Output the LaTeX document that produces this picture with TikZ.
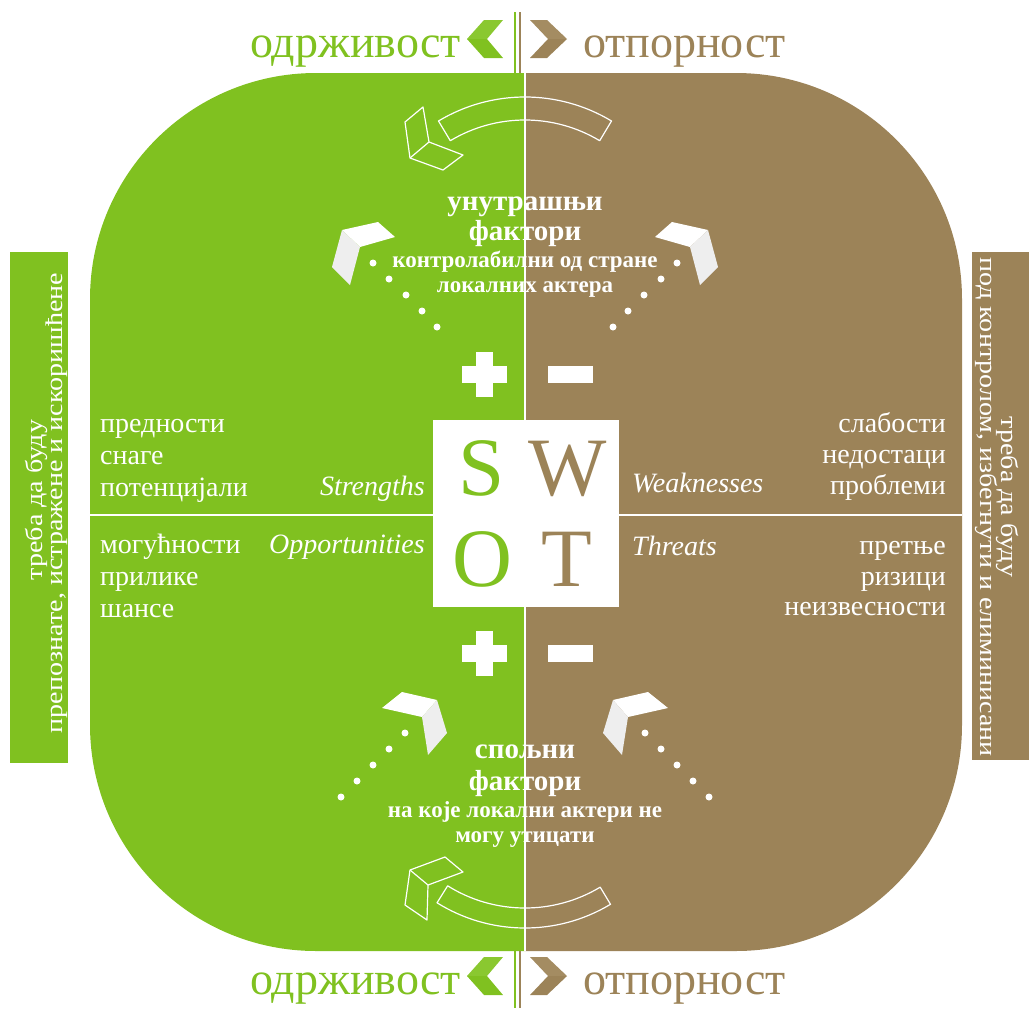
\documentclass[tikz,border=0pt]{standalone}
\usepackage{fontspec}
\setmainfont{Liberation Serif}
\definecolor{swgreen}{RGB}{128,193,32}
\definecolor{swbrown}{RGB}{156,131,88}
\definecolor{lgreen}{RGB}{138,200,48}
\definecolor{lbrown}{RGB}{164,140,98}
\definecolor{facet}{RGB}{238,238,238}
\tikzset{
 wt/.style={text=white, inner sep=0pt},
 lbl/.style={wt, font=\fontsize{28}{28}\selectfont},
 eng/.style={wt, font=\fontsize{28}{28}\selectfont\itshape},
 bigt/.style={wt, font=\fontsize{29}{29}\selectfont\bfseries, anchor=base},
 smallt/.style={wt, font=\fontsize{23}{23}\selectfont\bfseries, anchor=base},
 hdr/.style={inner sep=0pt, font=\fontsize{46}{46}\selectfont},
 swot/.style={inner sep=0pt, anchor=base, font=\fontsize{83}{83}\selectfont},
 side/.style={wt, anchor=base, font=\fontsize{24}{24}\selectfont},
 outl/.style={draw=white, line width=1.2pt, line join=round},
 dotmark/.style={fill=white, circle, inner sep=0pt, minimum size=7pt},
 sep/.style={white, line width=1.5pt},
}
\newcommand{\wide}[1]{\scalebox{1.17}[1]{#1}}
\begin{document}
\begin{tikzpicture}[x=1pt,y=-1pt]
\useasboundingbox (0,0) rectangle (1029,1010);
\clip (0,0) rectangle (1029,1010);
% main rounded square
\begin{scope}
\clip[rounded corners=226pt] (90,73) rectangle (962,951);
\fill[swgreen] (80,60) rectangle (525,960);
\fill[swbrown] (525,60) rectangle (975,960);
\end{scope}
\draw[sep] (525,73) -- (525,951);
\draw[sep] (90,515) -- (962,515);
% side bars
\fill[swgreen] (10,252) rectangle (68,763);
\fill[swbrown] (972,252) rectangle (1040,760);
\node[side, rotate=90] (l1) at (42,500) {\wide{треба да буду}};
\node[side, rotate=90] (l2) at (62,503) {\wide{препознате, истражене и искоришћене}};
\node[side, rotate=-90] (r1) at (1001,497) {\wide{треба да буду}};
\node[side, rotate=-90] (r2) at (980,507) {\wide{под контролом, избегнути и елиминисани}};
% headers
\foreach \dy/\nm in {0/t,937/b}{
 \begin{scope}[shift={(0,\dy)}]
 \node[hdr, text=swgreen, anchor=base east] (hg\nm) at (461,57) {одрживост};
 \node[hdr, text=swbrown, anchor=base west] (hb\nm) at (583,57) {отпорност};
 \fill[lgreen] (467,39) -- (484,20) -- (503,20) -- (487,39) -- cycle;
 \fill[swgreen] (467,39) -- (487,39) -- (503,58) -- (484,58) -- cycle;
 \fill[lbrown] (530,20) -- (547,20) -- (567,39) -- (548,39) -- cycle;
 \fill[swbrown] (548,39) -- (567,39) -- (547,58) -- (530,58) -- cycle;
 \end{scope}
}
\draw[swgreen, line width=1.6pt] (515,12) -- (515,73);
\draw[swbrown, line width=1.6pt] (520,12) -- (520,73);
\draw[swgreen, line width=1.6pt] (515,951) -- (515,1008);
\draw[swbrown, line width=1.6pt] (520,951) -- (520,1008);
% SWOT box
\fill[white] (433,420) rectangle (619,607);
\node[swot, text=swgreen] (S) at (482,495) {S};
\node[swot, text=swbrown] (W) at (568,495) {W};
\node[swot, text=swgreen] (O) at (482,586) {O};
\node[swot, text=swbrown] (T) at (567,586) {T};
% plus / minus
\foreach \yy in {374,653}{
 \fill[white] (462,\yy-8.5) rectangle (507,\yy+8.5);
 \fill[white] (476,\yy-22.5) rectangle (493,\yy+22.5);
 \fill[white] (548,\yy-8.5) rectangle (593,\yy+8.5);
}
% quadrant labels
\node[lbl, anchor=base west] (s1) at (100,432) {предности};
\node[lbl, anchor=base west] (s2) at (100,464) {снаге};
\node[lbl, anchor=base west] (s3) at (100,496) {потенцијали};
\node[eng, anchor=base east] (se) at (425,495) {Strengths};
\node[lbl, anchor=base west] (o1) at (100,553) {могућности};
\node[lbl, anchor=base west] (o2) at (100,585) {прилике};
\node[lbl, anchor=base west] (o3) at (100,617) {шансе};
\node[eng, anchor=base east] (oe) at (425,553) {Opportunities};
\node[lbl, anchor=base east] (w1) at (946,432) {слабости};
\node[lbl, anchor=base east] (w2) at (946,463) {недостаци};
\node[lbl, anchor=base east] (w3) at (946,494) {проблеми};
\node[eng, anchor=base west] (we) at (632,492) {Weaknesses};
\node[lbl, anchor=base east] (t1) at (946,554) {претње};
\node[lbl, anchor=base east] (t2) at (946,585) {ризици};
\node[lbl, anchor=base east] (t3) at (946,615) {неизвесности};
\node[eng, anchor=base west] (te) at (632,555) {Threats};
% internal / external texts
\node[bigt] (u1) at (525,210) {унутрашњи};
\node[bigt] (u2) at (525,240) {фактори};
\node[smallt] (u3) at (525,267) {контролабилни од стране};
\node[smallt] (u4) at (525,292) {локалних актера};
\node[bigt] (e1) at (525,758) {спољни};
\node[bigt] (e2) at (525,790) {фактори};
\node[smallt] (e3) at (525,817) {на које локални актери не};
\node[smallt] (e4) at (525,842) {могу утицати};
% filled chevrons top
\fill[white] (342,230) -- (378,222) -- (395,237) -- (360,247) -- cycle;
\fill[facet] (342,230) -- (360,247) -- (350,285) -- (332,267) -- cycle;
\fill[white] (708,230) -- (672,222) -- (655,237) -- (690,247) -- cycle;
\fill[facet] (708,230) -- (690,247) -- (700,285) -- (718,267) -- cycle;
% filled chevrons bottom
\fill[white] (382,708) -- (402,692) -- (437,700) -- (422,717) -- cycle;
\fill[facet] (437,700) -- (447,733) -- (428,755) -- (422,717) -- cycle;
\fill[white] (668,708) -- (648,692) -- (613,700) -- (628,717) -- cycle;
\fill[facet] (613,700) -- (603,733) -- (622,755) -- (628,717) -- cycle;
% dots
\foreach \px/\py [count=\i] in {373/263,389/279,406/295,422/311,437/327}{
 \node[dotmark] (dtl\i) at (\px,\py) {};
 \node[dotmark] (dtr\i) at (1050-\px,\py) {};
}
\foreach \px/\py [count=\i] in {405/733,389/749,373/765,357/781,341/797}{
 \node[dotmark] (dbl\i) at (\px,\py) {};
 \node[dotmark] (dbr\i) at (1050-\px,\py) {};
}
% outlined curved bands
\draw[outl] ([shift={(525,265)}]-59:168) arc[start angle=-59, end angle=-121, radius=168]
 -- ([shift={(525,265)}]-121:145) arc[start angle=-121, end angle=-59, radius=145] -- cycle;
\draw[outl] ([shift={(525,762)}]59:166) arc[start angle=59, end angle=122, radius=166]
 -- ([shift={(525,762)}]122:146) arc[start angle=122, end angle=59, radius=146] -- cycle;
% outlined chevrons
\draw[outl] (423,107) -- (429,142) -- (463,155) -- (443,170) -- (410,158) -- (405,122) -- cycle;
\draw[outl] (429,142) -- (410,158);
\draw[outl] (410,870) -- (445,857) -- (463,872) -- (428,885) -- (427,920) -- (405,905) -- cycle;
\draw[outl] (410,870) -- (428,885);
\end{tikzpicture}
\end{document}
